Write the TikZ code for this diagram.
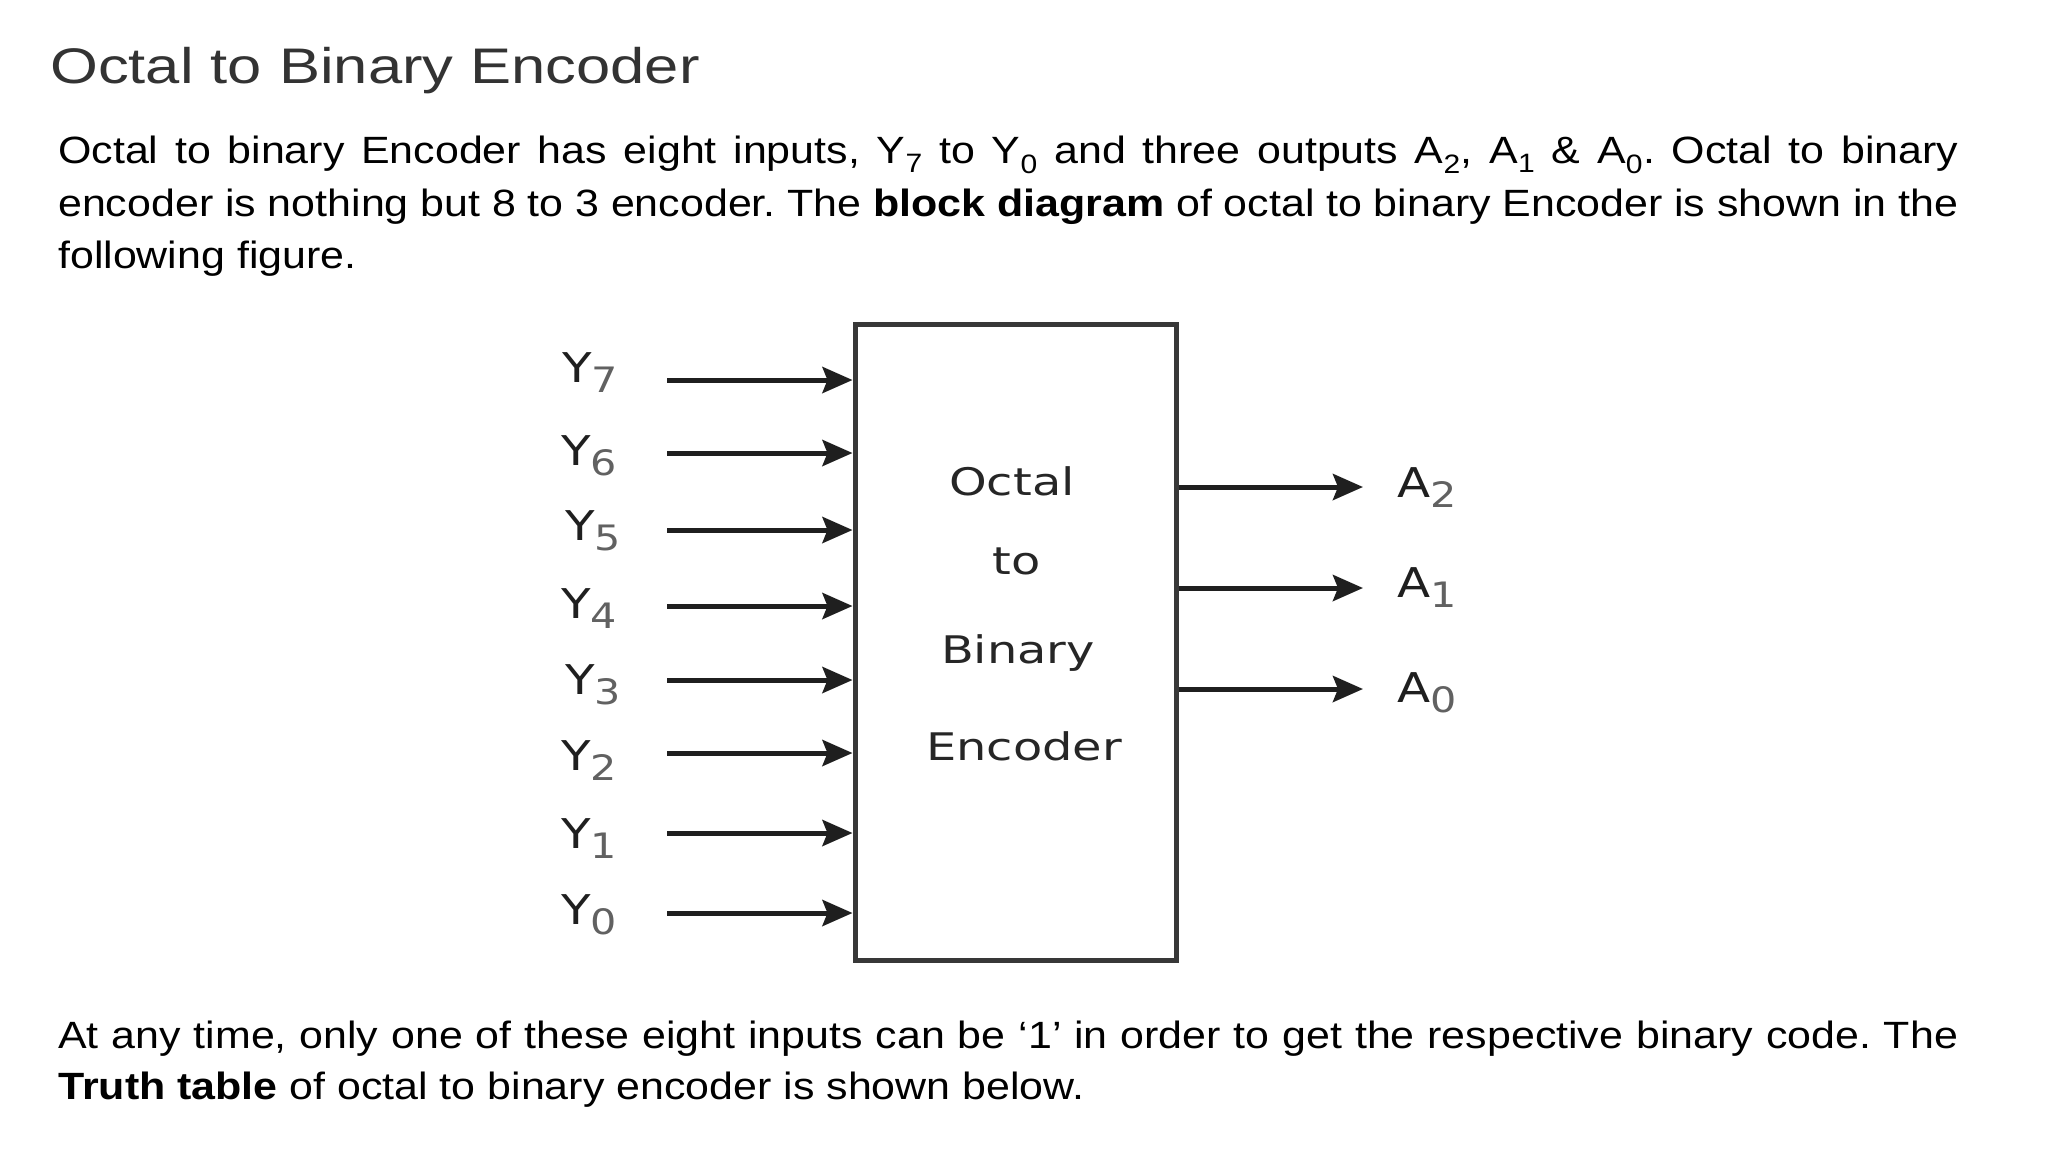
\documentclass[tikz,border=0pt]{standalone}
\usepackage{fontspec}
\setmainfont{Liberation Sans}
\newfontfamily\titlefont[FakeStretch=1.23]{Liberation Sans}
\newfontfamily\bodyfont[FakeStretch=1.13]{Liberation Sans}
\newfontfamily\dvfont[FakeStretch=1.18]{DejaVu Sans}
\newfontfamily\boxfont[FakeStretch=1.26]{DejaVu Sans}
\usetikzlibrary{arrows.meta}
\newcommand{\siglab}[2]{{\dvfont\fontsize{41}{41}\selectfont\color{black!88}#1}\raisebox{-10pt}{\dvfont\fontsize{35}{35}\selectfont\color{black!62}#2}}
\frenchspacing
\begin{document}
\begin{tikzpicture}[x=1pt,y=-1pt,
  body/.style={inner sep=0pt, anchor=base west, text=black, font=\bodyfont\fontsize{38}{38}\selectfont\frenchspacing},
  lbl/.style={inner sep=0pt, anchor=base west},
  boxtxt/.style={inner sep=0pt, anchor=base, text=black!85, font=\boxfont\fontsize{38}{38}\selectfont},
  arr/.style={line width=5pt, draw=black!88, -{Stealth[length=30pt,width=26pt,inset=5pt]}},
  encbox/.style={draw=black!78, line width=5pt, minimum width=321.5pt, minimum height=636pt, inner sep=0pt}
]
\fill[white] (0,0) rectangle (2048,1152);
\useasboundingbox (0,0) rectangle (2048,1152);

% title
\node[inner sep=0pt, anchor=base west, text=black!80, font=\titlefont\fontsize{50}{50}\selectfont] (title) at (50,83) {Octal to Binary Encoder};

% paragraph 1
\node[body] (p1a) at (58,163) {\makebox[1900pt][s]{Octal to binary Encoder has eight inputs, Y\textsubscript{7} to Y\textsubscript{0} and three outputs A\textsubscript{2}, A\textsubscript{1} \& A\textsubscript{0}. Octal to binary}};
\node[body] (p1b) at (58,216) {\makebox[1900pt][s]{encoder is nothing but 8 to 3 encoder. The \textbf{block diagram} of octal to binary Encoder is shown in the}};
\node[body] (p1c) at (58,268) {following figure.};

% paragraph 2
\node[body] (p2a) at (58,1048) {\makebox[1900pt][s]{At any time, only one of these eight inputs can be ‘1’ in order to get the respective binary code. The}};
\node[body] (p2b) at (58,1099) {\textbf{Truth table} of octal to binary encoder is shown below.};

% encoder block
\node[encbox] (enc) at (1015.75,642.5) {};
\node[boxtxt] (t1) at (1012,495) {Octal};
\node[boxtxt] (t2) at (1017,574) {to};
\node[boxtxt] (t3) at (1018,663) {Binary};
\node[boxtxt] (t4) at (1024,760) {Encoder};

% inputs
\foreach \n/\ya/\yb/\xl in {7/380/382/562, 6/453/465/561, 5/530/540/565, 4/606/618/561, 3/680/694/565, 2/753/770/561, 1/833/848/561, 0/913/924/561}{
  \node[lbl] (y\n) at (\xl,\yb) {\siglab{Y}{\n}};
  \coordinate (i\n) at (667,\ya);
  \draw[arr] (i\n) -- (i\n -| enc.west);
}

% outputs
\foreach \n/\ya/\yb in {2/487/497, 1/588/597, 0/689/702}{
  \coordinate (o\n) at (1363,\ya);
  \draw[arr] (o\n -| enc.east) -- (o\n);
  \node[lbl] (a\n) at (1397,\yb) {\siglab{A}{\n}};
}
\end{tikzpicture}
\end{document}
